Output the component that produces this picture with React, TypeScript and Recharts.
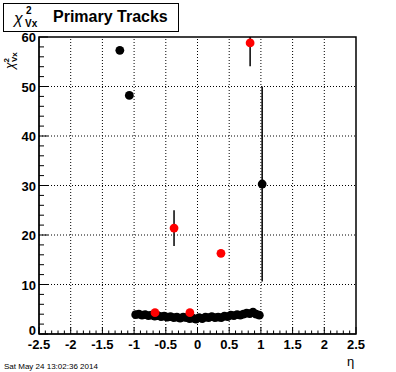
import { ScatterChart, Scatter, XAxis, YAxis, ErrorBar, ReferenceLine, ReferenceArea } from 'recharts'

// black points: eta, chi2, error
const blackEta = [
  -1.225, -1.075,
  -0.975, -0.925, -0.875, -0.825, -0.775, -0.725, -0.675, -0.625, -0.575, -0.525,
  -0.475, -0.425, -0.375, -0.325, -0.275, -0.225, -0.175, -0.125, -0.075, -0.025,
  0.025, 0.075, 0.125, 0.175, 0.225, 0.275, 0.325, 0.375, 0.425, 0.475,
  0.525, 0.575, 0.625, 0.675, 0.725, 0.775, 0.825, 0.875, 0.925, 0.975,
  1.02,
]
const blackVal = [
  57.3, 48.2,
  3.9, 4.0, 3.8, 3.9, 3.7, 3.8, 3.6, 3.7, 3.5, 3.6,
  3.4, 3.5, 3.3, 3.4, 3.2, 3.4, 3.3, 3.1, 3.2, 3.0,
  3.3, 3.1, 3.4, 3.3, 3.5, 3.3, 3.4, 3.3, 3.6, 3.5,
  3.8, 3.7, 3.9, 3.8, 4.0, 4.2, 4.1, 4.4, 4.0, 3.8,
  30.3,
]
const blackErr = [
  0, 0,
  0, 0, 0, 0, 0, 0, 0, 0, 0, 0,
  0, 0, 0, 0, 0, 0, 0, 0, 0, 0,
  0, 0, 0, 0, 0, 0, 0, 0, 0, 0,
  0, 0, 0, 0, 0, 0, 0, 0, 0, 0,
  19.7,
]

// red points
const redEta = [-0.67, -0.37, -0.12, 0.37, 0.83]
const redVal = [4.3, 21.4, 4.3, 16.3, 58.8]
const redErr = [0, 3.6, 0, 0, 4.7]

const xMajor = [-2.5, -2, -1.5, -1, -0.5, 0, 0.5, 1, 1.5, 2, 2.5]
const yMajor = [0, 10, 20, 30, 40, 50, 60]
const xGrid = [-2, -1.5, -1, -0.5, 0, 0.5, 1, 1.5, 2]
const yGrid = [10, 20, 30, 40, 50]
const Y_MAX = 60

const xTicks = Array.from({ length: 51 }, (_, i) => +(-2.5 + i * 0.1).toFixed(2))
const yTicks = Array.from({ length: 31 }, (_, i) => i * 2)

// error bars are cut at the frame top, as ROOT does
const withErr = (x: number, y: number, e: number) => ({ x, y, err: [e, Math.min(e, Y_MAX - y)] })
const blackData = blackEta.map((x, i) => withErr(x, blackVal[i], blackErr[i]))
const redData = redEta.map((x, i) => withErr(x, redVal[i], redErr[i]))

const FONT = '"Liberation Sans", Arial, sans-serif'

const XTick = (props: any) => {
  const { x, y, payload } = props
  const v = payload.value
  const major = xMajor.some(m => Math.abs(m - v) < 1e-6)
  return (
    <g>
      <line x1={x} y1={y} x2={x} y2={y - (major ? 7 : 3.5)} stroke="#000" />
      {major && (
        <text x={x} y={y + 15} textAnchor="middle" fontSize={13} fontWeight="bold" fontFamily={FONT} fill="#000">
          {String(v)}
        </text>
      )}
    </g>
  )
}

const YTick = (props: any) => {
  const { x, y, payload } = props
  const v = payload.value
  const major = yMajor.includes(v)
  return (
    <g>
      <line x1={x} y1={y} x2={x + (major ? 9 : 5)} y2={y} stroke="#000" />
      {major && (
        <text x={x - 3} y={v === 0 ? y + 1 : y + 5} textAnchor="end" fontSize={13} fontWeight="bold" fontFamily={FONT} fill="#000">
          {String(v)}
        </text>
      )}
    </g>
  )
}

const Dot = (color: string) => (props: any) => (
  <circle cx={props.cx} cy={props.cy} r={4.4} fill={color} />
)

export default function App() {
  return (
    <div style={{ position: 'absolute', left: 0, top: 0, width: 396, height: 372, background: '#fff', fontFamily: FONT }}>
      <ScatterChart width={396} height={372} margin={{ top: 37, right: 40, bottom: 0, left: 0 }}>
        <XAxis
          type="number"
          dataKey="x"
          domain={[-2.5, 2.5]}
          ticks={xTicks}
          interval={0}
          allowDataOverflow
          tickSize={0}
          tickMargin={0}
          tickLine={false}
          tick={<XTick />}
          axisLine={{ stroke: '#000' }}
          height={38}
        />
        <YAxis
          type="number"
          dataKey="y"
          domain={[0, Y_MAX]}
          ticks={yTicks}
          interval={0}
          allowDataOverflow
          tickSize={0}
          tickMargin={0}
          tickLine={false}
          tick={<YTick />}
          axisLine={{ stroke: '#000' }}
          width={39}
        />
        {xGrid.map(v => (
          <ReferenceLine key={'gx' + v} x={v} stroke="#000" strokeDasharray="1 2" />
        ))}
        {yGrid.map(v => (
          <ReferenceLine key={'gy' + v} y={v} stroke="#000" strokeDasharray="1 2" />
        ))}
        <ReferenceArea x1={-2.5} x2={2.5} y1={0} y2={Y_MAX} fill="none" stroke="#000" strokeWidth={1.5} />
        <Scatter data={blackData} shape={Dot('#000')} isAnimationActive={false}>
          <ErrorBar dataKey="err" direction="y" width={0} stroke="#000" strokeWidth={1.5} />
        </Scatter>
        <Scatter data={redData} shape={Dot('#ff0000')} isAnimationActive={false}>
          <ErrorBar dataKey="err" direction="y" width={0} stroke="#000" strokeWidth={1.5} />
        </Scatter>
      </ScatterChart>

      {/* title box */}
      <div
        style={{
          position: 'absolute', left: 3, top: 3, width: 176, height: 29,
          border: '1px solid #000', boxSizing: 'border-box', background: '#fff',
        }}
      >
        <span style={{ position: 'absolute', left: 10, top: 6, fontSize: 16, fontStyle: 'italic' }}>χ</span>
        <span style={{ position: 'absolute', left: 22, top: 1, fontSize: 10, fontWeight: 'bold' }}>2</span>
        <span style={{ position: 'absolute', left: 21, top: 14, fontSize: 10, fontWeight: 'bold' }}>Vx</span>
        <span style={{ position: 'absolute', left: 49, top: 4, fontSize: 16, fontWeight: 'bold' }}>Primary Tracks</span>
      </div>

      {/* y axis title */}
      <div
        style={{
          position: 'absolute', left: -8, top: 40, width: 40, height: 18,
          transform: 'rotate(-90deg)', fontSize: 11, whiteSpace: 'nowrap',
        }}
      >
        <span style={{ fontSize: 12, fontStyle: 'italic' }}>χ</span>
        <span style={{ fontSize: 8, fontWeight: 'bold', position: 'relative', top: -5 }}>2</span>
        <span style={{ fontSize: 8, fontWeight: 'bold', position: 'relative', top: 3, left: -4 }}>Vx</span>
      </div>

      <div style={{ position: 'absolute', left: 347, top: 354, fontSize: 13 }}>η</div>
      <div style={{ position: 'absolute', left: 4, top: 362, fontSize: 8 }}>Sat May 24 13:02:36 2014</div>
    </div>
  )
}
